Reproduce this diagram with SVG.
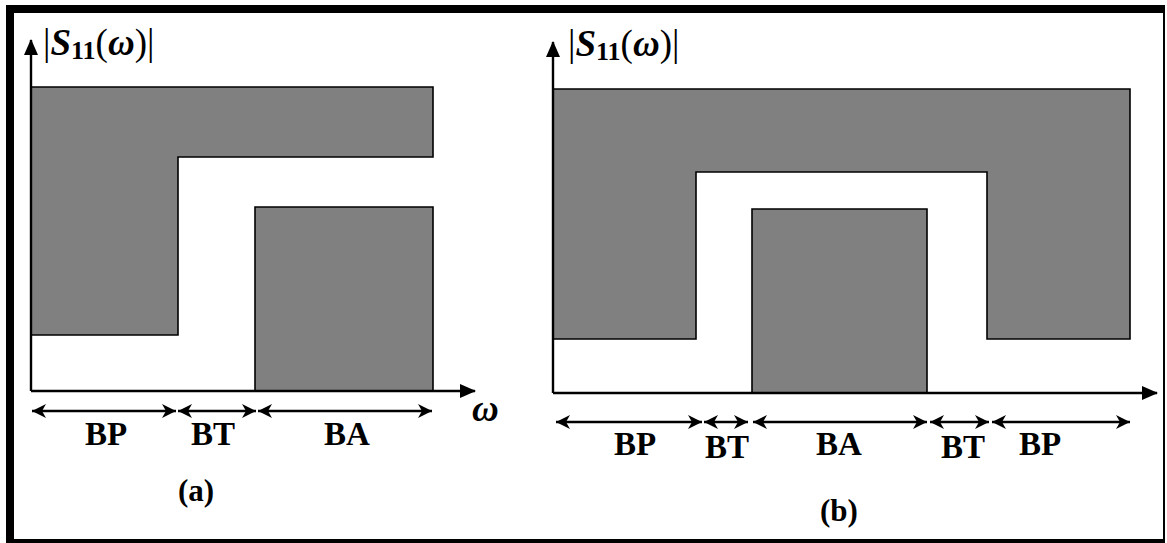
<svg xmlns="http://www.w3.org/2000/svg" width="1167" height="543" viewBox="0 0 1167 543">
<style>
.band{fill:#808080;stroke:#000;stroke-width:1.6;stroke-linejoin:miter}
.axis{fill:none;stroke:#000;stroke-width:2.4}
.dim{fill:none;stroke:#000;stroke-width:2.4}
.lbl{font-family:"Liberation Serif","Times New Roman",serif;font-weight:bold;font-size:33px;fill:#000;text-anchor:middle}
.cap{font-family:"Liberation Serif","Times New Roman",serif;font-weight:bold;font-size:31px;fill:#000;text-anchor:middle}
.math{font-family:"Liberation Serif","DejaVu Serif",serif;font-size:37px;fill:#000}
.bi{font-weight:bold;font-style:italic}
.sub{font-weight:bold;font-size:26px}
</style>
<defs>
<marker id="tri" viewBox="0 0 16 14" refX="15" refY="7" markerWidth="16" markerHeight="14" markerUnits="userSpaceOnUse" orient="auto">
<path d="M0,0 L16,7 L0,14 Z" fill="#000"/>
</marker>
<marker id="barb" viewBox="0 0 16 16" refX="15" refY="8" markerWidth="16" markerHeight="16" markerUnits="userSpaceOnUse" orient="auto-start-reverse">
<path d="M1,1 L15,8 L1,15 L5,8 Z" fill="#000"/>
</marker>
</defs>
<rect width="1167" height="543" fill="#fff"/>
<g id="frame">
<rect x="6" y="5" width="1159" height="8" fill="#000"/>
<rect x="6" y="5" width="8" height="538" fill="#000"/>
<rect x="1163" y="5" width="2" height="538" fill="#000"/>
<rect x="6" y="539" width="1159" height="4" fill="#000"/>
</g>
<g id="panel-a">
<g id="a-passband"><path class="band" d="M31,87 H433 V157 H178 V335 H31 Z"/></g>
<g id="a-stopband"><path class="band" d="M255,207 H433 V391 H255 Z"/></g>
<g id="a-ylabel"><text class="math" x="43" y="55"><tspan>|</tspan><tspan class="bi">S</tspan><tspan class="sub" dy="4">11</tspan><tspan dy="-4">(</tspan><tspan class="bi">ω</tspan><tspan>)|</tspan></text></g>
<g id="a-xlabel"><text class="math bi" x="472" y="421">ω</text></g>
<g id="a-BP"><text class="lbl" x="106" y="445">BP</text></g>
<g id="a-BT"><text class="lbl" x="213" y="445">BT</text></g>
<g id="a-BA"><text class="lbl" x="347" y="445">BA</text></g>
<g id="a-caption"><text class="cap" x="196" y="501">(a)</text></g>
</g>
<g id="panel-b">
<g id="b-passband"><path class="band" d="M553,89 H1130 V339 H987 V172 H696 V339 H553 Z"/></g>
<g id="b-stopband"><path class="band" d="M752,209 H927 V393 H752 Z"/></g>
<g id="b-ylabel"><text class="math" x="568" y="56"><tspan>|</tspan><tspan class="bi">S</tspan><tspan class="sub" dy="4">11</tspan><tspan dy="-4">(</tspan><tspan class="bi">ω</tspan><tspan>)|</tspan></text></g>
<g id="b-BP1"><text class="lbl" x="635" y="455">BP</text></g>
<g id="b-BT1"><text class="lbl" x="727" y="458">BT</text></g>
<g id="b-BA"><text class="lbl" x="839" y="455">BA</text></g>
<g id="b-BT2"><text class="lbl" x="963" y="458">BT</text></g>
<g id="b-BP2"><text class="lbl" x="1040" y="455">BP</text></g>
<g id="b-caption"><text class="cap" x="839" y="521">(b)</text></g>
</g>
<g id="connectors">
<line class="axis" x1="31" y1="391" x2="31" y2="40" marker-end="url(#tri)"/>
<line class="axis" x1="31" y1="391" x2="475" y2="391" marker-end="url(#tri)"/>
<line class="dim" x1="32" y1="411" x2="176" y2="411" marker-start="url(#barb)" marker-end="url(#barb)"/>
<line class="dim" x1="178" y1="411" x2="256" y2="411" marker-start="url(#barb)" marker-end="url(#barb)"/>
<line class="dim" x1="258" y1="411" x2="432" y2="411" marker-start="url(#barb)" marker-end="url(#barb)"/>
<line class="axis" x1="553" y1="393" x2="553" y2="42" marker-end="url(#tri)"/>
<line class="axis" x1="553" y1="393" x2="1157" y2="393" marker-end="url(#tri)"/>
<line class="dim" x1="556" y1="422" x2="702" y2="422" marker-start="url(#barb)" marker-end="url(#barb)"/>
<line class="dim" x1="704" y1="422" x2="748" y2="422" marker-start="url(#barb)" marker-end="url(#barb)"/>
<line class="dim" x1="753" y1="422" x2="927" y2="422" marker-start="url(#barb)" marker-end="url(#barb)"/>
<line class="dim" x1="930" y1="422" x2="989" y2="422" marker-start="url(#barb)" marker-end="url(#barb)"/>
<line class="dim" x1="992" y1="422" x2="1130" y2="422" marker-start="url(#barb)" marker-end="url(#barb)"/>
</g>
</svg>
